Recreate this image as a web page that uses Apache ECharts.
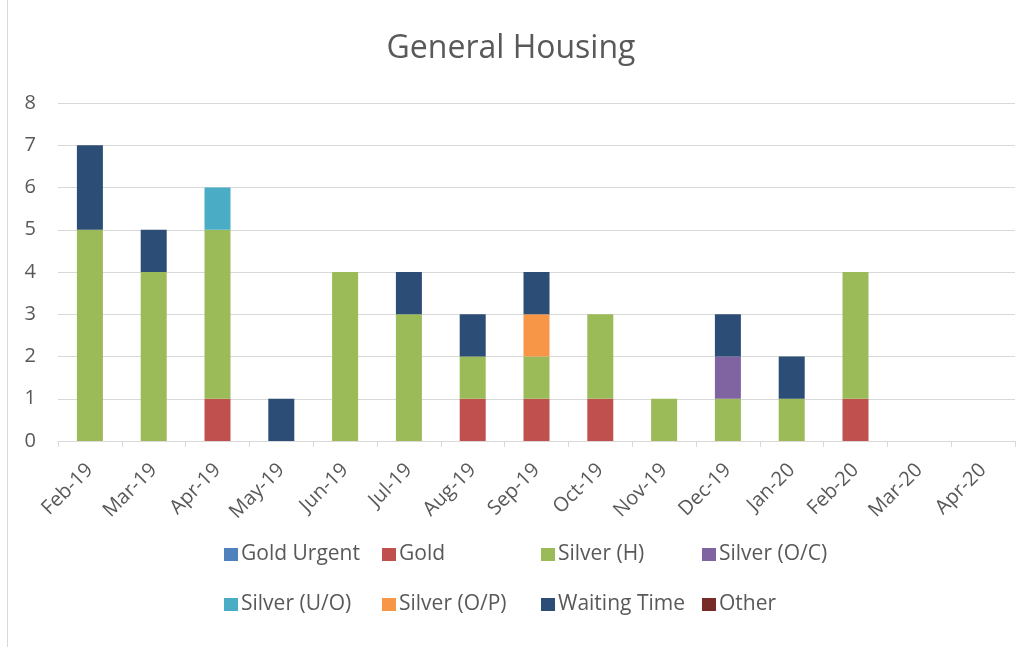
<!DOCTYPE html>
<html>
<head>
<meta charset="utf-8">
<script src="https://cdn.jsdelivr.net/npm/echarts@6/dist/echarts.min.js"></script>
<style>
html,body{margin:0;padding:0;background:#fff;overflow:hidden;}
#frame{position:absolute;left:7px;top:-1px;width:1020px;height:649px;border:1px solid #d9d9d9;box-sizing:border-box;}
#chart{position:absolute;left:0;top:0;width:1022px;height:647px;}
</style>
</head>
<body>
<div id="frame"></div>
<div id="chart"></div>
<script>
const categories = ['Feb-19','Mar-19','Apr-19','May-19','Jun-19','Jul-19','Aug-19','Sep-19','Oct-19','Nov-19','Dec-19','Jan-20','Feb-20','Mar-20','Apr-20'];
const goldUrgent  = [0,0,0,0,0,0,0,0,0,0,0,0,0,0,0];
const gold        = [0,0,1,0,0,0,1,1,1,0,0,0,1,0,0];
const silverH     = [5,4,4,0,4,3,1,1,2,1,1,1,3,0,0];
const silverOC    = [0,0,0,0,0,0,0,0,0,0,1,0,0,0,0];
const silverUO    = [0,0,1,0,0,0,0,0,0,0,0,0,0,0,0];
const silverOP    = [0,0,0,0,0,0,0,1,0,0,0,0,0,0,0];
const waitingTime = [2,1,0,1,0,1,1,1,0,0,1,1,0,0,0];
const other       = [0,0,0,0,0,0,0,0,0,0,0,0,0,0,0];
const yTicks = [0,1,2,3,4,5,6,7,8];

const seriesDefs = [
  ['Gold Urgent', goldUrgent, '#4f81bd'],
  ['Gold', gold, '#c0504d'],
  ['Silver (H)', silverH, '#9bbb59'],
  ['Silver (O/C)', silverOC, '#8064a2'],
  ['Silver (U/O)', silverUO, '#4bacc6'],
  ['Silver (O/P)', silverOP, '#f79646'],
  ['Waiting Time', waitingTime, '#2c4d75'],
  ['Other', other, '#772c2a']
];

const font = "'Open Sans', 'Liberation Sans', sans-serif";
const legendCols = [
  [['Gold Urgent','Silver (U/O)'], 219],
  [['Gold','Silver (O/P)'], 377],
  [['Silver (H)','Waiting Time'], 536],
  [['Silver (O/C)','Other'], 697]
];

const chart = echarts.init(document.getElementById('chart'), null, {renderer:'canvas'});
chart.setOption({
  animation:false,
  color: seriesDefs.map(d=>d[2]),
  title:{text:'General Housing', left:'center', top:28, textStyle:{fontFamily:font, fontSize:32, fontWeight:'normal', color:'#595959'}},
  grid:{left:58, right:7, top:103, bottom:206, containLabel:false},
  legend: legendCols.map(c=>({
    data:c[0], orient:'vertical', left:c[1], top:539, itemGap:29, itemWidth:14, itemHeight:13,
    icon:'rect', selectedMode:false,
    textStyle:{fontFamily:font, fontSize:21, color:'#595959', padding:[0,0,0,-2]}
  })),
  xAxis:{
    type:'category', data:categories,
    axisLine:{lineStyle:{color:'#d9d9d9', width:1}},
    axisTick:{show:true, length:6, lineStyle:{color:'#d9d9d9'}},
    axisLabel:{rotate:45, margin:26, fontFamily:font, fontSize:20, color:'#595959'}
  },
  yAxis:{
    type:'value', min:yTicks[0], max:yTicks[yTicks.length-1], interval:1,
    axisLine:{show:false}, axisTick:{show:false},
    splitLine:{lineStyle:{color:'#d9d9d9', width:1}},
    axisLabel:{margin:22, fontFamily:font, fontSize:20, color:'#595959'}
  },
  series: seriesDefs.map(d=>({
    name:d[0], type:'bar', stack:'total', data:d[1], barWidth:26,
    itemStyle:{color:d[2]}
  }))
});
</script>
</body>
</html>
